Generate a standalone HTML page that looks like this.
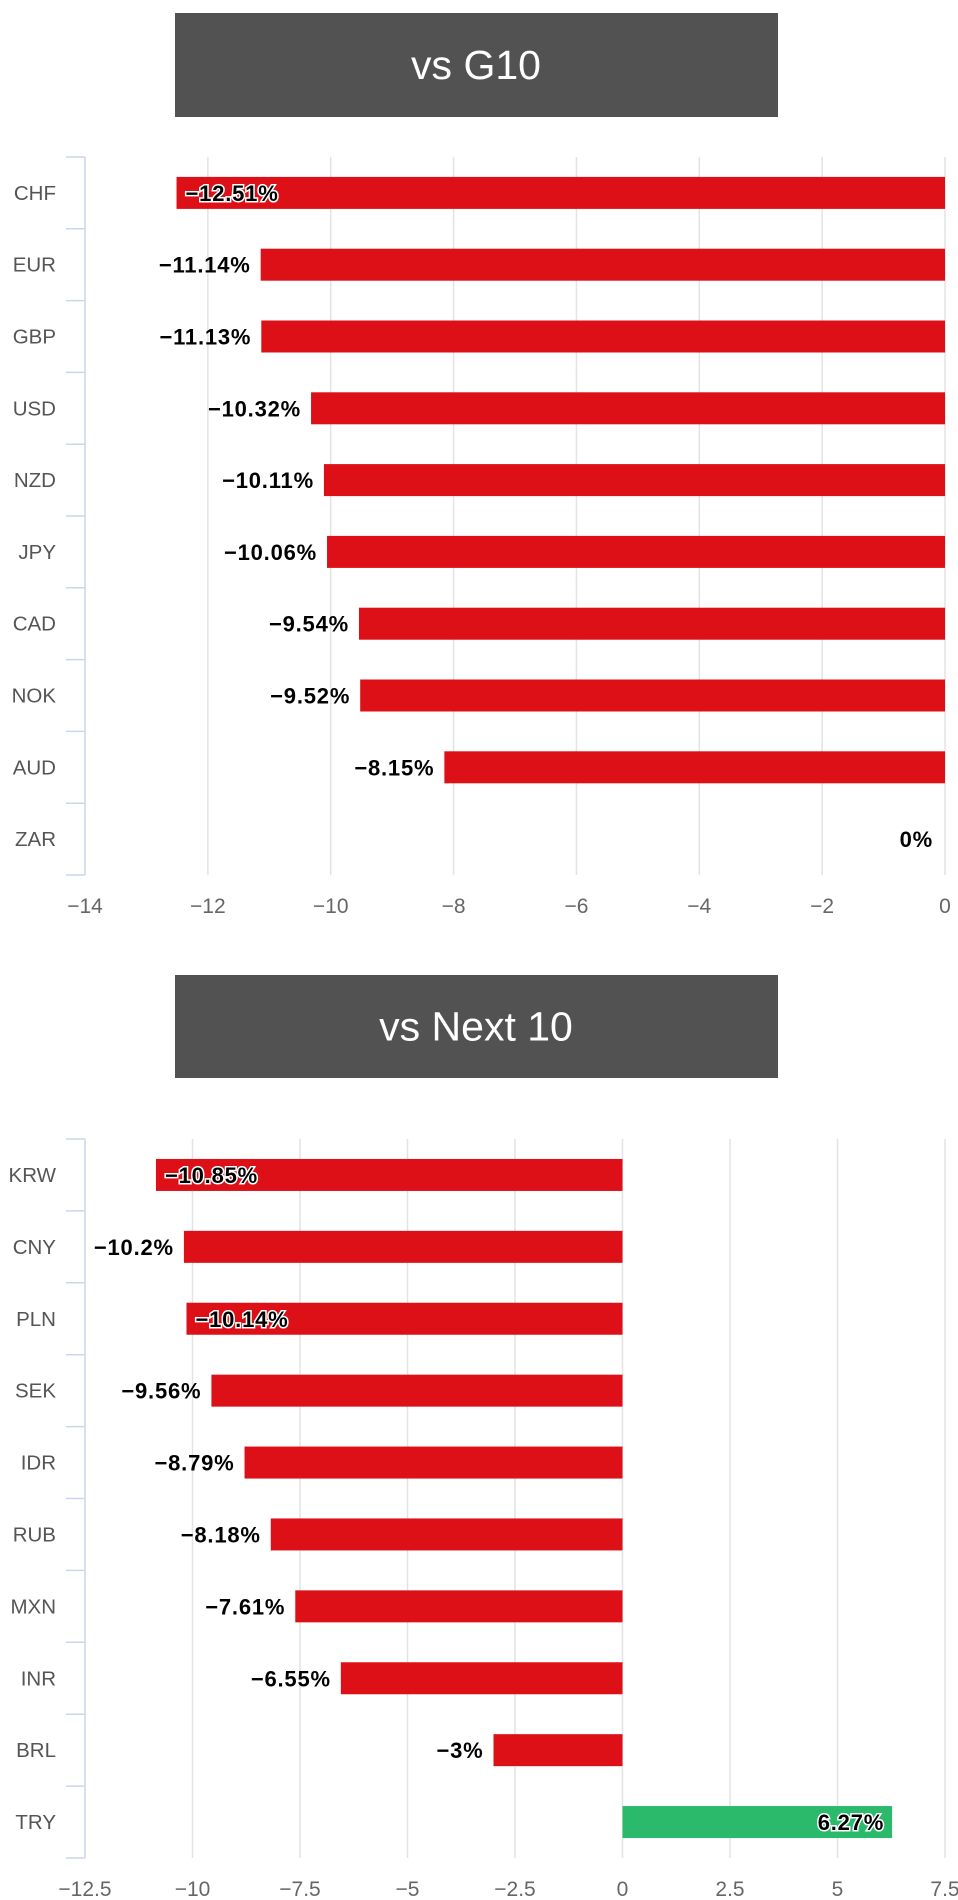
<!DOCTYPE html>
<html><head><meta charset="utf-8">
<style>
body{margin:0;background:#fff;width:958px;height:1900px;overflow:hidden;font-family:"Liberation Sans",sans-serif;}
svg{position:absolute;left:0;top:0;}
</style></head>
<body>
<svg id="svg" width="958" height="1900"></svg>
<script>
const g10Categories=["CHF","EUR","GBP","USD","NZD","JPY","CAD","NOK","AUD","ZAR"];
const g10Values=[-12.51,-11.14,-11.13,-10.32,-10.11,-10.06,-9.54,-9.52,-8.15,0];
const g10Ticks=[-14,-12,-10,-8,-6,-4,-2,0];
const g10TickLabels=["−14","−12","−10","−8","−6","−4","−2","0"];
const n10Categories=["KRW","CNY","PLN","SEK","IDR","RUB","MXN","INR","BRL","TRY"];
const n10Values=[-10.85,-10.2,-10.14,-9.56,-8.79,-8.18,-7.61,-6.55,-3,6.27];
const n10Ticks=[-12.5,-10,-7.5,-5,-2.5,0,2.5,5,7.5];
const n10TickLabels=["−12.5","−10","−7.5","−5","−2.5","0","2.5","5","7.5"];
const inside1=[0];
const inside2=[0,2,9];

const NS="http://www.w3.org/2000/svg";
const svg=document.getElementById('svg');
function mk(tag,attrs,parent){const e=document.createElementNS(NS,tag);for(const k in attrs)e.setAttribute(k,attrs[k]);(parent||svg).appendChild(e);return e;}
function fmt(v){return (v<0?"−":"")+Math.abs(v)+"%";}

function chart(o){
  const grp=mk('g',{});
  
  
  const tb=mk('rect',{x:175,y:o.titleY,width:603,height:o.titleH,fill:'#525252'},grp);
  
  
  const tt=mk('text',{x:476,y:o.titleY+o.titleH/2+14,'text-anchor':'middle','font-size':41,fill:'#fff'},grp);
  tt.textContent=o.title;
  
  
  const x0=85,x1=945,min=o.ticks[0],max=o.ticks[o.ticks.length-1];
  const xs=v=>x0+(v-min)/(max-min)*(x1-x0);
  const band=(o.bottom-o.top)/o.cats.length;
  o.ticks.forEach((t,i)=>{
    if(i>0){const gl=mk('line',{x1:xs(t),x2:xs(t),y1:o.top,y2:o.bottom,stroke:'#e3e3e3','stroke-width':1.5},grp);
    
    }
    const tl=mk('text',{x:xs(t),y:o.bottom+38,'text-anchor':'middle','font-size':21,fill:'#666'},grp);
    tl.textContent=o.tickLabels[i];
    
    
  });
  const ax=mk('line',{x1:x0,x2:x0,y1:o.top,y2:o.bottom,stroke:'#ccd6eb','stroke-width':1.5},grp);
  
  
  for(let i=0;i<=o.cats.length;i++){
    const y=o.top+i*band;
    const tk=mk('line',{x1:66,x2:x0,y1:y,y2:y,stroke:'#ccd6eb','stroke-width':1.5},grp);
    
    
  }
  o.cats.forEach((c,i)=>{
    const cy=o.top+(i+0.5)*band;
    const cl=mk('text',{x:56,y:cy+7,'text-anchor':'end','font-size':20.5,fill:'#555'},grp);
    cl.textContent=c;
    
    
    const v=o.vals[i];
    const a=xs(Math.min(v,0)),b=xs(Math.max(v,0));
    if(v!==0){
      const r=mk('rect',{x:a,y:cy-16,width:b-a,height:32,fill:v<0?'#dd1018':'#2bba6b'},grp);
      
      
    }
    const ins=o.inside.includes(i);
    let lx,anc;
    if(v===0){lx=xs(0)-12;anc='end';}
    else if(v<0){ if(ins){lx=a+9;anc='start';}else{lx=a-10;anc='end';} }
    else {lx=b-8;anc='end';}
    const vl=mk('text',{x:lx,y:cy+8,'text-anchor':anc,'font-size':22,'font-weight':'bold','letter-spacing':'0.8',fill:'#000'},grp);
    if(ins){vl.setAttribute('stroke','#fff');vl.setAttribute('stroke-width','3');vl.setAttribute('paint-order','stroke');}
    vl.textContent=fmt(v);
    
    
  });
}
chart({name:'chart-vs-g10',title:'vs G10',titleY:13,titleH:104,top:157,bottom:875,cats:g10Categories,vals:g10Values,ticks:g10Ticks,tickLabels:g10TickLabels,inside:inside1});
chart({name:'chart-vs-next10',title:'vs Next 10',titleY:975,titleH:103,top:1139,bottom:1858,cats:n10Categories,vals:n10Values,ticks:n10Ticks,tickLabels:n10TickLabels,inside:inside2});
</script>
</body></html>
